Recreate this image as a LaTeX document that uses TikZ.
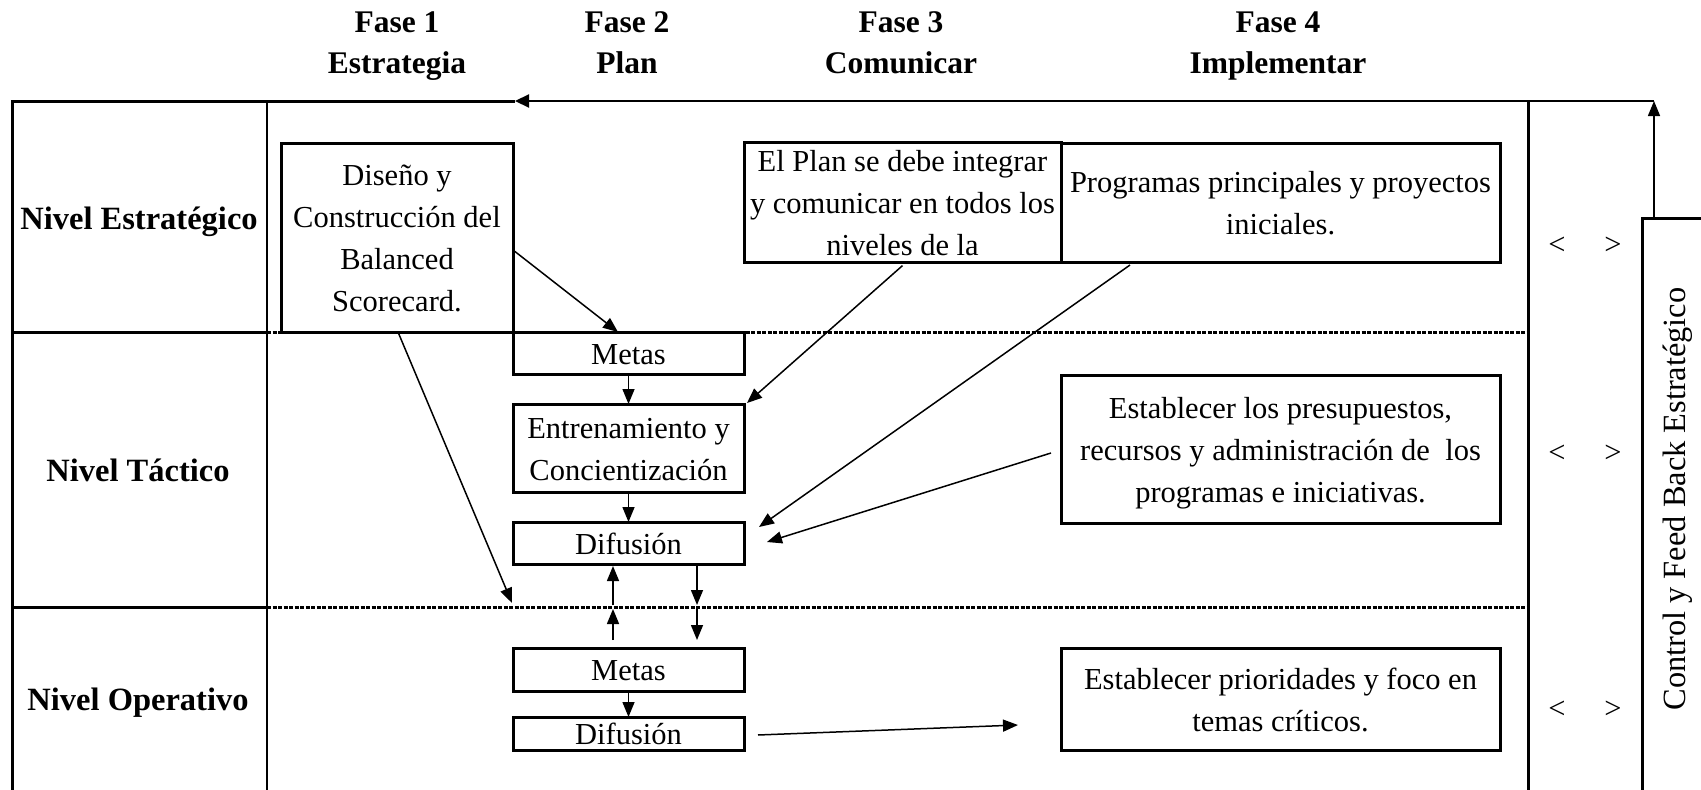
\documentclass[tikz,border=0pt]{standalone}
\usepackage{fontspec}
\setmainfont{Liberation Serif}
\usetikzlibrary{arrows.meta,calc}

% uniform line struts: height above / depth below the baseline
\newcommand\lnstrut{\rule[-7pt]{0pt}{36.2pt}}
\newcommand\lnstrutsm{\rule[-2pt]{0pt}{26.2pt}}

\begin{document}
\begin{tikzpicture}[x=1pt,y=-1pt,
  every node/.style={inner sep=0pt, outer sep=0pt},
  txt/.style={font=\fontsize{30.5}{42}\selectfont, align=center},
  hdr/.style={font=\fontsize{31.5}{41}\selectfont\bfseries, align=center},
  lvl/.style={font=\fontsize{32.5}{41}\selectfont\bfseries, align=center},
  box/.style={txt, draw, line width=3pt, rectangle, fill=white},
  frame/.style={line width=3pt},
  sep/.style={line width=3pt, dash pattern=on 4pt off 1.5pt},
  conn/.style={line width=1.5pt, -{Triangle[length=15pt,width=12pt]}},
]
\fill[white] (0,0) rectangle (1701,790);
\useasboundingbox (0,0) rectangle (1701,790);

% phase headers
\node[hdr] (h1) at (397,41.4)  {\lnstrut Fase 1\\\lnstrut Estrategia};
\node[hdr] (h2) at (627,41.4)  {\lnstrut Fase 2\\\lnstrut Plan};
\node[hdr] (h3) at (901,41.4)  {\lnstrut Fase 3\\\lnstrut Comunicar};
\node[hdr] (h4) at (1278,41.4) {\lnstrut Fase 4\\\lnstrut Implementar};

% level labels
\node[lvl] (r1) at (139,218.4) {\lnstrut Nivel Estratégico};
\node[lvl] (r2) at (138,469.9) {\lnstrut Nivel Táctico};
\node[lvl] (r3) at (138,698.9) {\lnstrut Nivel Operativo};

% frame
\coordinate (tl) at (12,101);
\coordinate (topmid) at (515,101);
\coordinate (fbtop) at (1654,101);
\draw[frame] (12,800) -- (tl) -- (topmid);
\draw[line width=2.2pt, -{Triangle[length=14pt,width=13pt]}] (fbtop) -- (topmid);
\draw[line width=2.5pt] (267,101) -- (267,800);
\draw[frame] (1528,101) -- (1528,800);

% level separators
\draw[frame] (12,332) -- (267,332);
\draw[sep] (267,332) -- (1528,332);
\draw[frame] (12,607) -- (267,607);
\draw[sep] (267,607) -- (1528,607);

% boxes
\node[box, minimum width=232pt, minimum height=189pt] (dis) at (397,237.5)
  {\lnstrut Diseño y\\\lnstrut Construcción del\\\lnstrut Balanced\\\lnstrut Scorecard.};
\node[box, minimum width=231pt, minimum height=42pt] (met1) at (628.5,353) {\lnstrutsm Metas};
\node[box, minimum width=231pt, minimum height=88pt] (ent) at (628.5,448)
  {\lnstrut Entrenamiento y\\\lnstrut Concientización};
\node[box, minimum width=231pt, minimum height=42pt] (dif1) at (628.5,543) {\lnstrutsm Difusión};
\node[box, minimum width=231pt, minimum height=43pt] (met2) at (628.5,669.5) {\lnstrutsm Metas};
\node[box, minimum width=231pt, minimum height=33pt] (dif2) at (628.5,733.5) {\lnstrutsm Difusión};
\node[box, minimum width=317pt, minimum height=119pt] (plan) at (902.5,202.5)
  {\lnstrut El Plan se debe integrar\\\lnstrut y comunicar en todos los\\\lnstrut niveles de la};
\node[box, minimum width=439pt, minimum height=119pt] (prog) at (1280.5,202.5)
  {\lnstrut Programas principales y proyectos\\\lnstrut iniciales.};
\node[box, minimum width=439pt, minimum height=148pt] (pres) at (1280.5,449)
  {\lnstrut Establecer los presupuestos,\\\lnstrut recursos y administración de\ \ los\\\lnstrut programas e iniciativas.};
\node[box, minimum width=439pt, minimum height=102pt] (prio) at (1280.5,699)
  {\lnstrut Establecer prioridades y foco en\\\lnstrut temas críticos.};

% control column
\node[txt] (lg1) at (1585,246) {<\hspace{39pt}>};
\node[txt] (lg2) at (1585,454) {<\hspace{39pt}>};
\node[txt] (lg3) at (1585,710) {<\hspace{39pt}>};
\node[draw, frame, minimum width=70pt, minimum height=620pt, anchor=north west] (ctrl) at (1642,218) {};
\node[font=\fontsize{32.4}{40}\selectfont, rotate=90] (fbtxt) at (1678,499) {Control y Feed Back Estratégico};
\draw[conn] ([xshift=12pt]ctrl.north west) -- (fbtop);

% connectors
\coordinate (dislow) at (512,603);
\coordinate (u1) at (613,640);
\coordinate (u2) at (613,609);
\coordinate (u3) at (613,605);
\coordinate (d1) at (697,605);
\coordinate (d2) at (697,609);
\coordinate (d3) at (697,640);
\coordinate (prioend) at (1018,725);

\draw[conn] ([yshift=-12.5pt]dis.east) -- ([xshift=-10.5pt]met1.north);
\draw[conn] ([xshift=1pt]dis.south) -- (dislow);
\draw[conn] (met1.south) -- (ent.north);
\draw[conn] ([yshift=-3pt]plan.south) -- ([xshift=3pt,yshift=1pt]ent.north east);
\draw[conn] (ent.south) -- (dif1.north);
\draw[conn] ([xshift=69pt,yshift=-3pt]prog.south west) -- ([xshift=15pt,yshift=-5pt]dif1.north east);
\draw[conn] ([xshift=-10pt,yshift=-4pt]pres.west) -- ([xshift=23pt,yshift=1pt]dif1.east);
\draw[conn] (u1) -- (u2);
\draw[conn] (u3) -- ([xshift=-15.5pt,yshift=-2pt]dif1.south);
\draw[conn] ([xshift=68.5pt,yshift=-2pt]dif1.south) -- (d1);
\draw[conn] (d2) -- (d3);
\draw[conn] (met2.south) -- (dif2.north);
\draw[conn] ([xshift=14pt,yshift=-1.5pt]dif2.east) -- (prioend);
\end{tikzpicture}
\end{document}
